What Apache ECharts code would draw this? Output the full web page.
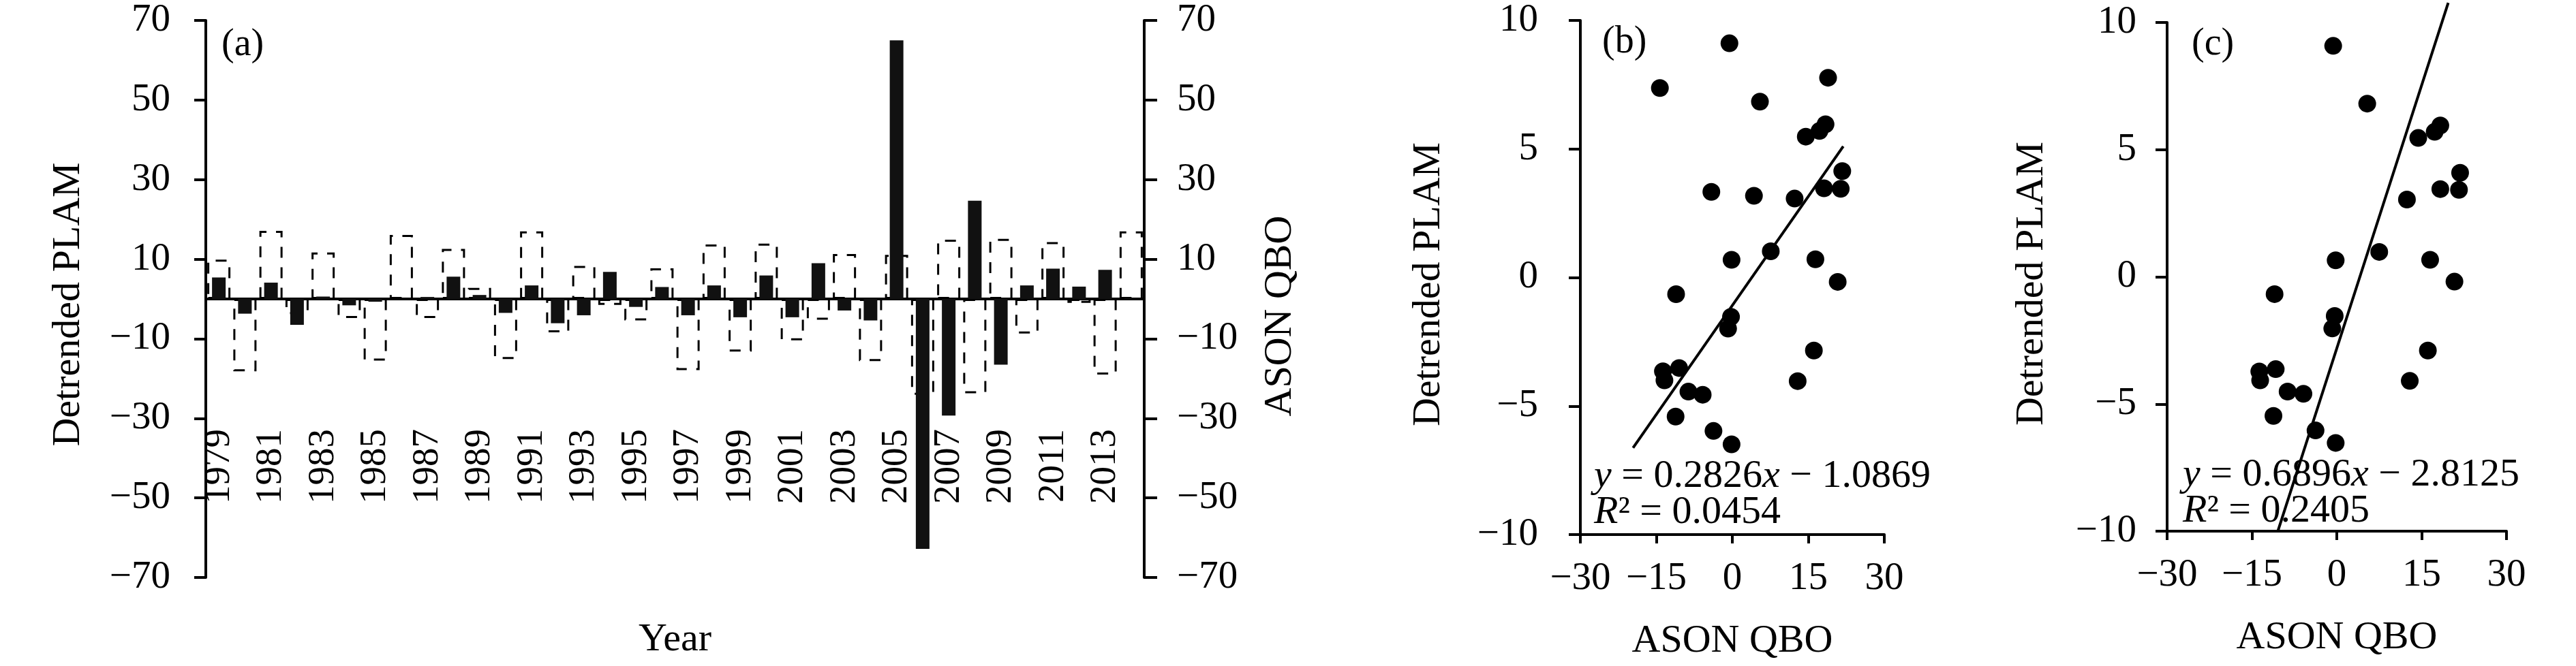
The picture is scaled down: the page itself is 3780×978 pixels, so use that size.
<!DOCTYPE html>
<html>
<head>
<meta charset="utf-8">
<script src="https://cdn.jsdelivr.net/npm/echarts@6/dist/echarts.min.js"></script>
<style>
  html, body { margin: 0; padding: 0; background: #fff; }
  #plamChart { width: 3780px; height: 978px; }
</style>
</head>
<body>
<div id="plamChart"></div>
<script>
// panel (a): detrended PLAM (solid bars) and ASON QBO (dashed bars) per year
const years = ['1979', '1980', '1981', '1982', '1983', '1984', '1985', '1986', '1987', '1988',
  '1989', '1990', '1991', '1992', '1993', '1994', '1995', '1996', '1997', '1998',
  '1999', '2000', '2001', '2002', '2003', '2004', '2005', '2006', '2007', '2008',
  '2009', '2010', '2011', '2012', '2013', '2014'];
const plam = [5.4, -3.7, 4.1, -6.5, 0.6, -1.6, -0.7, -0.2, 0.5, 5.6,
  1.0, -3.5, 3.4, -6.1, -4.1, 6.8, -2.0, 3.0, -4.1, 3.4,
  -4.6, 5.9, -4.6, 9.0, -2.9, -5.4, 65.0, -62.8, -29.3, 24.7,
  -16.5, 3.4, 7.6, 3.1, 7.3, 0.2];
const qbo = [9.9, -18.2, 17.1, -3.8, 11.7, -4.8, -15.5, 16.1, -4.8, 12.6,
  2.8, -15.1, 17.0, -8.4, 8.3, -1.5, -5.4, 7.7, -17.9, 13.7,
  -13.2, 13.9, -10.4, -5.2, 11.3, -15.6, 11.1, -24.1, 14.9, -23.7,
  15.1, -8.7, 14.3, -1.0, -19.0, 17.0];

// panel (b): scatter, all years used
const bQbo = [-0.57, -14.3, 18.9, 5.45, 18.4, 17.2, 14.5, 21.7, 18.1, 21.4,
  -4.14, 4.27, 12.3, 7.59, -0.15, 16.4, 20.8, -11.1, -0.26, -0.84,
  16.1, -13.7, -13.4, -10.5, 12.9, -8.67, -5.85, -11.2, -3.72, -0.15];
const bPlam = [9.11, 7.37, 7.77, 6.84, 5.96, 5.70, 5.48, 4.14, 3.47, 3.45,
  3.33, 3.18, 3.07, 1.02, 0.69, 0.71, -0.17, -0.65, -1.53, -1.99,
  -2.84, -3.65, -4.0, -3.52, -4.03, -4.44, -4.56, -5.41, -5.97, -6.49];
const bFitCoef = [0.2826, -1.0869];
const bFitR2 = 0.0454;
const bFitRange = [-19.6, 21.9];

// panel (c): scatter, subset
const cQbo = [-0.64, 5.38, 18.3, 17.3, 14.4, 21.8, 18.3, 21.6, 12.4, 7.5,
  -0.2, 16.5, 20.8, -11.0, -0.37, -0.8, 16.1, -13.7, -13.55, -10.8,
  12.9, -8.7, -5.9, -11.2, -3.76, -0.2];
const cPlam = [9.08, 6.81, 5.95, 5.70, 5.46, 4.09, 3.45, 3.42, 3.04, 0.98,
  0.65, 0.67, -0.19, -0.68, -1.54, -2.03, -2.9, -3.72, -4.07, -3.63,
  -4.09, -4.51, -4.6, -5.47, -6.04, -6.53];
const cFitCoef = [0.6896, -2.8125];
const cFitR2 = 0.2405;
const cFitRange = [-10.4, 19.7];

const FONT = '"Liberation Serif", "Times New Roman", serif';
const minus = v => String(v).replace('-', '\u2212');

function valueAxis(grid, min, max, interval, opts) {
  return Object.assign({
    type: 'value',
    gridIndex: grid,
    min: min,
    max: max,
    interval: interval,
    splitLine: { show: false },
    axisLine: { show: true, onZero: false, lineStyle: { color: '#000', width: 4 } },
    axisTick: { show: true, length: 17, lineStyle: { color: '#000', width: 4 } },
    axisLabel: { color: '#000', fontFamily: FONT, fontSize: 57, formatter: minus },
    nameLocation: 'middle',
    nameTextStyle: { color: '#000', fontFamily: FONT, fontSize: 58 }
  }, opts);
}

function fitLine(coef, range) {
  return range.map(x => [x, coef[0] * x + coef[1]]);
}

function eqText(x, y, coef, r2) {
  let rich = { i: { fontStyle: 'italic', fontFamily: FONT, fontSize: 58, fill: '#000' } };
  let line1 = '{i|y} = ' + coef[0].toFixed(4) + '{i|x} \u2212 ' + Math.abs(coef[1]).toFixed(4);
  let line2 = '{i|R}\u00b2 = ' + r2.toFixed(4);
  return [
    { type: 'text', x: x, y: y, style: { text: line1, fontFamily: FONT, fontSize: 58, fill: '#000', verticalAlign: 'middle', rich: rich } },
    { type: 'text', x: x, y: y + 53, style: { text: line2, fontFamily: FONT, fontSize: 58, fill: '#000', verticalAlign: 'middle', rich: rich } }
  ];
}

function panelLabel(x, y, txt) {
  return { type: 'text', x: x, y: y, style: { text: txt, fontFamily: FONT, fontSize: 56, fill: '#000', verticalAlign: 'middle' } };
}

let option = {
  animation: false,
  backgroundColor: '#fff',
  grid: [
    { left: 302, top: 30, width: 1377, height: 818 },
    { left: 2319, top: 30, width: 446, height: 755 },
    { left: 3180, top: 33, width: 498, height: 747 }
  ],
  xAxis: [
    {
      // year labels, moved up into the lower half of the plot
      type: 'category',
      gridIndex: 0,
      data: years,
      position: 'bottom',
      offset: -220,
      axisLine: { show: false, onZero: false },
      axisTick: { show: false },
      axisLabel: { show: true, rotate: 90, interval: 1, margin: 2, color: '#000', fontFamily: FONT, fontSize: 55 },
      name: 'Year',
      nameLocation: 'middle',
      nameGap: 283,
      nameTextStyle: { color: '#000', fontFamily: FONT, fontSize: 58 }
    },
    {
      // zero line
      type: 'category',
      gridIndex: 0,
      data: years,
      axisLine: { show: true, onZero: true, onZeroAxisIndex: 0, lineStyle: { color: '#000', width: 4 } },
      axisTick: { show: false },
      axisLabel: { show: false }
    },
    valueAxis(1, -30, 30, 15, {
      axisTick: { show: true, length: 13, lineStyle: { color: '#000', width: 4 } },
      axisLabel: { color: '#000', fontFamily: FONT, fontSize: 57, margin: 37, formatter: minus },
      name: 'ASON QBO', nameGap: 128
    }),
    valueAxis(2, -30, 30, 15, {
      axisTick: { show: true, length: 13, lineStyle: { color: '#000', width: 4 } },
      axisLabel: { color: '#000', fontFamily: FONT, fontSize: 57, margin: 37, formatter: minus },
      name: 'ASON QBO', nameGap: 128
    })
  ],
  yAxis: [
    valueAxis(0, -70, 70, 20, {
      position: 'left',
      axisLabel: { color: '#000', fontFamily: FONT, fontSize: 57, margin: 52, formatter: minus },
      name: 'Detrended PLAM', nameRotate: 90, nameGap: 172,
      nameTextStyle: { color: '#000', fontFamily: FONT, fontSize: 58, padding: [0, 16, 0, 0] }
    }),
    valueAxis(0, -70, 70, 20, {
      position: 'right',
      axisTick: { show: true, length: 19, lineStyle: { color: '#000', width: 4 } },
      axisLabel: { color: '#000', fontFamily: FONT, fontSize: 57, margin: 48, formatter: minus },
      name: 'ASON QBO', nameRotate: 90, nameGap: 171,
      nameTextStyle: { color: '#000', fontFamily: FONT, fontSize: 58, padding: [0, 50, 0, 0] }
    }),
    valueAxis(1, -10, 10, 5, {
      axisLabel: { color: '#000', fontFamily: FONT, fontSize: 57, margin: 62, formatter: minus },
      name: 'Detrended PLAM', nameRotate: 90, nameGap: 193,
      nameTextStyle: { color: '#000', fontFamily: FONT, fontSize: 58, padding: [0, 20, 0, 0] }
    }),
    valueAxis(2, -10, 10, 5, {
      axisLabel: { color: '#000', fontFamily: FONT, fontSize: 57, margin: 45, formatter: minus },
      name: 'Detrended PLAM', nameRotate: 90, nameGap: 169,
      nameTextStyle: { color: '#000', fontFamily: FONT, fontSize: 58, padding: [0, 20, 0, 0] }
    })
  ],
  graphic: [
    panelLabel(325, 66, '(a)'),
    panelLabel(2351, 62, '(b)'),
    panelLabel(3216, 65, '(c)')
  ].concat(eqText(2339, 700, bFitCoef, bFitR2), eqText(3203, 698, cFitCoef, cFitR2)),
  series: [
    {
      name: 'ASON QBO',
      type: 'bar',
      xAxisIndex: 1,
      yAxisIndex: 1,
      data: qbo,
      barWidth: 34,
      z: 2,
      itemStyle: { color: 'rgba(0,0,0,0)', borderColor: '#000', borderWidth: 3, borderType: [16, 14] }
    },
    {
      name: 'Detrended PLAM',
      type: 'bar',
      xAxisIndex: 0,
      yAxisIndex: 0,
      data: plam,
      barWidth: 20,
      z: 3,
      itemStyle: { color: '#111' }
    },
    {
      type: 'scatter',
      xAxisIndex: 2,
      yAxisIndex: 2,
      data: bQbo.map((x, i) => [x, bPlam[i]]),
      symbolSize: 26,
      itemStyle: { color: '#000', opacity: 1 }
    },
    {
      type: 'line',
      xAxisIndex: 2,
      yAxisIndex: 2,
      data: fitLine(bFitCoef, bFitRange),
      symbol: 'none',
      clip: false,
      lineStyle: { color: '#000', width: 4 }
    },
    {
      type: 'scatter',
      xAxisIndex: 3,
      yAxisIndex: 3,
      data: cQbo.map((x, i) => [x, cPlam[i]]),
      symbolSize: 26,
      itemStyle: { color: '#000', opacity: 1 }
    },
    {
      type: 'line',
      xAxisIndex: 3,
      yAxisIndex: 3,
      data: fitLine(cFitCoef, cFitRange),
      symbol: 'none',
      clip: false,
      lineStyle: { color: '#000', width: 4 }
    }
  ]
};

let chart = echarts.init(document.getElementById('plamChart'));
chart.setOption(option);
</script>
</body>
</html>
